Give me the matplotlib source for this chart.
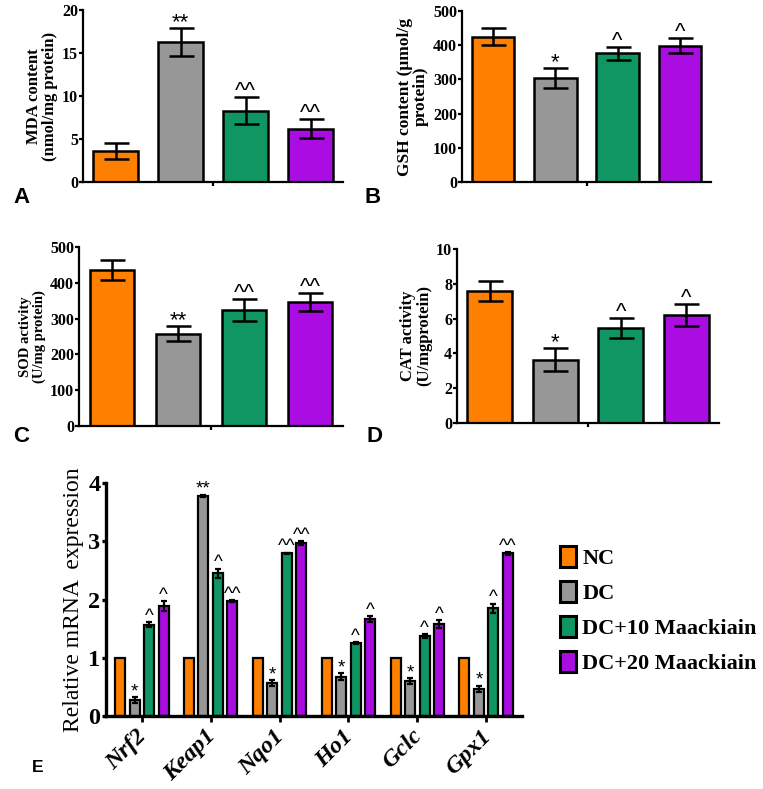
import matplotlib
matplotlib.use("Agg")
import matplotlib.pyplot as plt
import matplotlib.transforms as mtransforms
import numpy as np
from matplotlib.patches import Patch

plt.rcParams['font.family'] = ['Liberation Serif', 'DejaVu Serif']
plt.rcParams['font.weight'] = 'bold'

# groups and colours
groups = ['NC', 'DC', 'DC+10 Maackiain', 'DC+20 Maackiain']
colors = ['#FF8000', '#979797', '#0F9662', '#A90DE2']

# panel A-D values (mean, error, significance)
mda = [3.6, 16.3, 8.3, 6.2]
mda_err = [0.9, 1.6, 1.6, 1.1]
mda_sig = ['', '**', '^^', '^^']

gsh = [425, 303, 376, 399]
gsh_err = [25, 29, 18, 23]
gsh_sig = ['', '*', '^', '^']

sod = [436, 258, 325, 346]
sod_err = [27, 21, 31, 26]
sod_sig = ['', '**', '^^', '^^']

cat = [7.6, 3.63, 5.45, 6.22]
cat_err = [0.57, 0.67, 0.58, 0.62]
cat_sig = ['', '*', '^', '^']

# panel E: relative mRNA expression
genes = ['Nrf2', 'Keap1', 'Nqo1', 'Ho1', 'Gclc', 'Gpx1']
nc_mrna = [1, 1, 1, 1, 1, 1]
dc_mrna = [0.27, 3.78, 0.56, 0.67, 0.60, 0.47]
dc_mrna_err = [0.05, 0.015, 0.05, 0.06, 0.05, 0.05]
dc10_mrna = [1.57, 2.45, 2.79, 1.25, 1.37, 1.85]
dc10_mrna_err = [0.04, 0.08, 0.015, 0.02, 0.03, 0.08]
dc20_mrna = [1.89, 1.97, 2.97, 1.67, 1.58, 2.79]
dc20_mrna_err = [0.08, 0.02, 0.03, 0.05, 0.07, 0.03]
dc_sig = ['*', '**', '*', '*', '*', '*']
dc10_sig = ['^', '^', '^^', '^', '^', '^']
dc20_sig = ['^', '^^', '^^', '^', '^', '^^']

W, H = 763, 789
fig = plt.figure(figsize=(W / 100, H / 100), dpi=100)


def px_axes(left, top, right, bottom):
    return fig.add_axes([left / W, 1 - bottom / H, (right - left) / W, (bottom - top) / H])


def small_panel(ax, vals, errs, sigs, ymax, yticks, ylabel, lsize):
    x = np.arange(len(vals))
    ax.bar(x, vals, width=0.68, color=colors, edgecolor='black', linewidth=1.8, zorder=2)
    ax.errorbar(x, vals, yerr=errs, fmt='none', ecolor='black', elinewidth=1.8,
                capsize=9, capthick=1.8, zorder=3)
    for xi, v, e, s in zip(x, vals, errs, sigs):
        if s:
            ax.text(xi, v + e, s, ha='center', va='baseline',
                    fontsize=16, fontweight='normal', family='Liberation Sans')
    ax.set_xlim(-0.5, 3.5)
    ax.set_ylim(0, ymax)
    ax.set_yticks(yticks)
    ax.set_xticks([1.5])
    ax.set_xticklabels([''])
    for sp in ['top', 'right']:
        ax.spines[sp].set_visible(False)
    for sp in ['left', 'bottom']:
        ax.spines[sp].set_linewidth(1.6)
    ax.tick_params(axis='y', length=3, width=1.6, pad=0.5, labelsize=11.5)
    ax.tick_params(axis='x', length=3, width=1.6)
    ax.set_ylabel(ylabel, fontsize=lsize, fontweight='bold', labelpad=3, linespacing=1.0)


axA = px_axes(83, 10, 343, 182)
small_panel(axA, mda, mda_err, mda_sig, 20, [0, 5, 10, 15, 20],
            'MDA content\n(nmol/mg protein)', 12)
axB = px_axes(462, 11, 711, 182)
small_panel(axB, gsh, gsh_err, gsh_sig, 500, [0, 100, 200, 300, 400, 500],
            'GSH content (\u03bcmol/g\nprotein)', 12.5)
axC = px_axes(79, 247, 343, 426)
small_panel(axC, sod, sod_err, sod_sig, 500, [0, 100, 200, 300, 400, 500],
            'SOD activity\n(U/mg protein)', 10.5)
axD = px_axes(457, 249, 719, 423)
small_panel(axD, cat, cat_err, cat_sig, 10, [0, 2, 4, 6, 8, 10],
            'CAT activity\n(U/mgprotein)', 12)

# panel E
axE = px_axes(106, 483, 522, 716)
xg = np.arange(len(genes))
step = 0.21
series = [(nc_mrna, None, None), (dc_mrna, dc_mrna_err, dc_sig),
          (dc10_mrna, dc10_mrna_err, dc10_sig), (dc20_mrna, dc20_mrna_err, dc20_sig)]
for k, (vals, errs, sigs) in enumerate(series):
    xs = xg + (k - 1.5) * step
    axE.bar(xs, vals, width=0.145, color=colors[k], edgecolor='black', linewidth=1.6,
            zorder=2, label=groups[k])
    if errs is not None:
        axE.errorbar(xs, vals, yerr=errs, fmt='none', ecolor='black', elinewidth=1.6,
                     capsize=2.5, capthick=1.6, zorder=3)
        for xi, v, e, s in zip(xs, vals, errs, sigs):
            axE.text(xi, v + e + 0.02, s, ha='center', va='baseline', fontsize=13.5,
                     fontweight='normal', family='Liberation Sans')
axE.set_xlim(-0.52, 5.52)
axE.set_ylim(0, 4)
axE.set_yticks([0, 1, 2, 3, 4])
axE.set_xticks(xg)
for sp in ['top', 'right']:
    axE.spines[sp].set_visible(False)
for sp in ['left', 'bottom']:
    axE.spines[sp].set_linewidth(2.4)
axE.tick_params(axis='y', length=3, width=2.4, pad=1, labelsize=17.5)
axE.tick_params(axis='x', length=4, width=2, pad=3)
axE.set_xticklabels(genes, rotation=45, ha='right', style='italic', fontsize=17.5)
shift = mtransforms.ScaledTranslation(9 / 100, 0, fig.dpi_scale_trans)
for lbl in axE.get_xticklabels():
    lbl.set_transform(lbl.get_transform() + shift)
axE.set_ylabel('Relative mRNA  expression', fontsize=17, fontweight='normal', labelpad=3)

handles = [Patch(facecolor=c, edgecolor='black', linewidth=2.2) for c in colors]
fig.legend(handles, groups, loc='upper left', bbox_to_anchor=(560 / W, 1 - 546 / H),
           frameon=False, handlelength=0.7, handleheight=1.05,
           handletextpad=0.3, labelspacing=0.55, borderpad=0, borderaxespad=0,
           prop={'weight': 'bold', 'size': 16})

# panel letters
for lab, x, y, fs in [('A', 21, 198, 16), ('B', 373, 198, 16), ('C', 21, 437, 16),
                      ('D', 374, 437, 16), ('E', 37.5, 768, 12.5)]:
    fig.text(x / W, 1 - y / H, lab, ha='center', va='center', fontsize=fs,
             fontweight='bold', family='Liberation Sans')

fig.savefig('out.png', dpi=100)
